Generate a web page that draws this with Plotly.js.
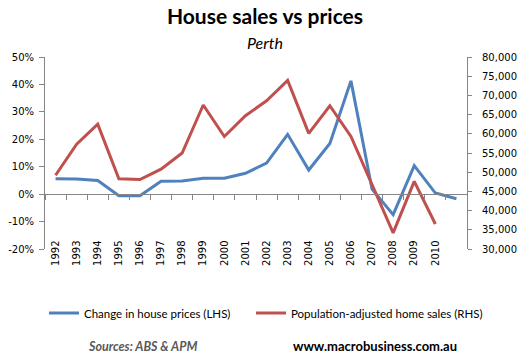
<!DOCTYPE html>
<html>
<head>
<meta charset="utf-8">
<script src="https://cdn.plot.ly/plotly-3.0.1.min.js"></script>
<style>html,body{margin:0;padding:0;background:#fff;}#chart{width:527px;height:360px;}</style>
</head>
<body>
<div id="chart"></div>
<script>
var years = [1992,1993,1994,1995,1996,1997,1998,1999,2000,2001,2002,2003,2004,2005,2006,2007,2008,2009,2010,2011];
var yearLabels = ["1992","1993","1994","1995","1996","1997","1998","1999","2000","2001","2002","2003","2004","2005","2006","2007","2008","2009","2010"];
var priceChange = [0.056,0.055,0.050,-0.006,-0.006,0.047,0.048,0.058,0.058,0.076,0.113,0.218,0.088,0.185,0.413,0.018,-0.075,0.104,0.004,-0.017];
var salesYears = [1992,1993,1994,1995,1996,1997,1998,1999,2000,2001,2002,2003,2004,2005,2006,2007,2008,2009,2010];
var homeSales = [49200,57300,62500,48300,48100,50800,55000,67500,59300,64700,68600,73900,60100,67300,59300,46800,34200,47600,36500];
var leftTickVals = [-0.2,-0.1,0,0.1,0.2,0.3,0.4,0.5];
var leftTickText = ["-20%","-10%","0%","10%","20%","30%","40%","50%"];
var boundaryTicks = [1991.5,1992.5,1993.5,1994.5,1995.5,1996.5,1997.5,1998.5,1999.5,2000.5,2001.5,2002.5,2003.5,2004.5,2005.5,2006.5,2007.5,2008.5,2009.5,2010.5,2011.5];
var labelTickVals = [1992,1993,1994,1995,1996,1997,1998,1999,2000,2001,2002,2003,2004,2005,2006,2007,2008,2009,2010];

var blue = '#4F81BD', red = '#C0504D', axisCol = '#868686';
var tickFont = {family:'DejaVu Sans', size:10, color:'#000'};

var traces = [
  {x: years, y: priceChange, type:'scatter', mode:'lines', name:'Change in house prices (LHS)',
   line:{color:blue, width:3}, xaxis:'x', yaxis:'y', legend:'legend'},
  {x: salesYears, y: homeSales, type:'scatter', mode:'lines', name:'Population-adjusted home sales (RHS)',
   line:{color:red, width:3}, xaxis:'x', yaxis:'y2', legend:'legend2'},
  {x: [], y: [], type:'scatter', mode:'lines', xaxis:'x2', yaxis:'y', showlegend:false, hoverinfo:'skip'}
];

var zeroPos = 0.2/0.7;
var legendFont = {family:'Lato', size:11.5, color:'#000'};

var layout = {
  width:527, height:360,
  margin:{l:45, r:60, t:57, b:111},
  paper_bgcolor:'#fff', plot_bgcolor:'#fff',
  showlegend:true,
  title:{text:'<b>House sales vs prices</b>', font:{family:'Lato', size:21, color:'#000'},
         x:265/527, xref:'container', xanchor:'center', y:1-17/360, yref:'container', yanchor:'middle'},
  xaxis:{range:[1991.5,2011.5], anchor:'free', position:zeroPos, showline:true, linecolor:axisCol, linewidth:1,
         tickmode:'array', tickvals:boundaryTicks, ticks:'outside', ticklen:5, tickcolor:axisCol,
         showticklabels:false, showgrid:false, zeroline:false, fixedrange:true},
  xaxis2:{range:[1991.5,2011.5], overlaying:'x', anchor:'free', position:0.06, side:'bottom',
          showline:false, ticks:'', tickmode:'array', tickvals:labelTickVals, ticktext:yearLabels,
          tickangle:-90, tickfont:tickFont, showgrid:false, zeroline:false},
  yaxis:{range:[-0.2,0.5], tickmode:'array', tickvals:leftTickVals, ticktext:leftTickText,
         showline:true, linecolor:axisCol, ticks:'outside', ticklen:5, tickcolor:axisCol,
         tickfont:tickFont, showgrid:false, zeroline:false, ticklabelstandoff:3},
  yaxis2:{range:[30000,80000], overlaying:'y', side:'right', anchor:'x', dtick:5000, tick0:30000,
          tickformat:',', showline:true, linecolor:axisCol, ticks:'outside', ticklen:4, tickcolor:axisCol,
          tickfont:tickFont, showgrid:false, zeroline:false, ticklabelstandoff:8},
  legend:{orientation:'h', xref:'container', yref:'container', x:44/527, xanchor:'left',
          y:1-313/360, yanchor:'middle', font:legendFont, bgcolor:'rgba(0,0,0,0)', itemwidth:30},
  legend2:{orientation:'h', xref:'container', yref:'container', x:251/527, xanchor:'left',
          y:1-313/360, yanchor:'middle', font:legendFont, bgcolor:'rgba(0,0,0,0)', itemwidth:30},
  annotations:[
    {text:'<i>Perth</i>', xref:'paper', yref:'paper', x:(265-45)/422, y:(249-42)/192,
     xanchor:'center', yanchor:'middle', showarrow:false, font:{family:'Lato', size:16, color:'#000'}},
    {text:'<b><i>Sources: ABS &amp; APM</i></b>', xref:'paper', yref:'paper', x:(142-45)/422, y:(249-346)/192,
     xanchor:'center', yanchor:'middle', showarrow:false, font:{family:'Lato', size:12.5, color:'#595959'}},
    {text:'<b>www.macrobusiness.com.au</b>', xref:'paper', yref:'paper', x:(375-45)/422, y:(249-346)/192,
     xanchor:'center', yanchor:'middle', showarrow:false, font:{family:'Lato', size:13, color:'#000'}}
  ]
};

Plotly.newPlot('chart', traces, layout, {staticPlot:true, displayModeBar:false});
</script>
</body>
</html>
